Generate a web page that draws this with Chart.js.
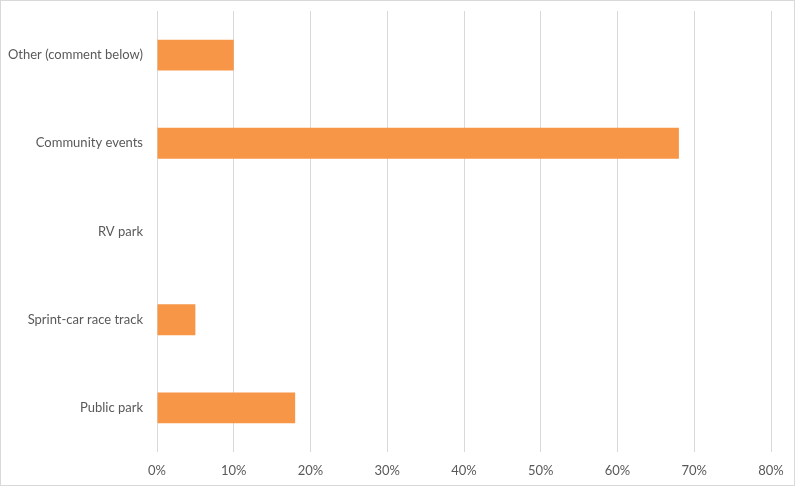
<!DOCTYPE html>
<html>
<head>
<meta charset="utf-8">
<script src="https://cdn.jsdelivr.net/npm/chart.js@4/dist/chart.umd.min.js"></script>
<style>
  html, body { margin: 0; padding: 0; background: #fff; }
  #wrap { width: 795px; height: 486px; box-sizing: border-box; border: 1px solid #d9d9d9; position: relative; }
  canvas { display: block; }
</style>
</head>
<body>
<div id="wrap"><canvas id="c"></canvas></div>
<script>
const categories = ["Other (comment below)", "Community events", "RV park", "Sprint-car race track", "Public park"];
const values = [10, 68, 0, 5, 18];
const tickValues = [0, 10, 20, 30, 40, 50, 60, 70, 80];

const fontFamily = "Lato, 'Open Sans', 'Liberation Sans', sans-serif";

new Chart(document.getElementById('c'), {
  type: 'bar',
  data: {
    labels: categories,
    datasets: [{
      data: values,
      backgroundColor: '#f79646',
      borderWidth: 0,
      categoryPercentage: 1,
      barPercentage: 0.35
    }]
  },
  options: {
    indexAxis: 'y',
    responsive: true,
    maintainAspectRatio: false,
    animation: false,
    layout: { padding: { top: 10, right: 23, bottom: 0, left: 0 } },
    plugins: { legend: { display: false }, tooltip: { enabled: false } },
    scales: {
      x: {
        min: 0, max: 80,
        afterBuildTicks: (s) => { s.ticks = tickValues.map(v => ({ value: v })); },
        afterFit: (s) => { s.height = 33; s.paddingLeft = 0; s.paddingRight = 0; },
        grid: { color: '#d9d9d9', drawTicks: false, lineWidth: 1 },
        border: { display: false },
        ticks: {
          padding: 11,
          color: '#595959',
          font: { family: fontFamily, size: 13 },
          callback: (v) => v + '%'
        }
      },
      y: {
        afterFit: (s) => { s.width = 156; s.paddingTop = 0; s.paddingBottom = 0; },
        grid: { display: false, drawTicks: false },
        border: { display: false },
        ticks: {
          padding: 14,
          color: '#595959',
          font: { family: fontFamily, size: 13 }
        }
      }
    }
  }
});
</script>
</body>
</html>
